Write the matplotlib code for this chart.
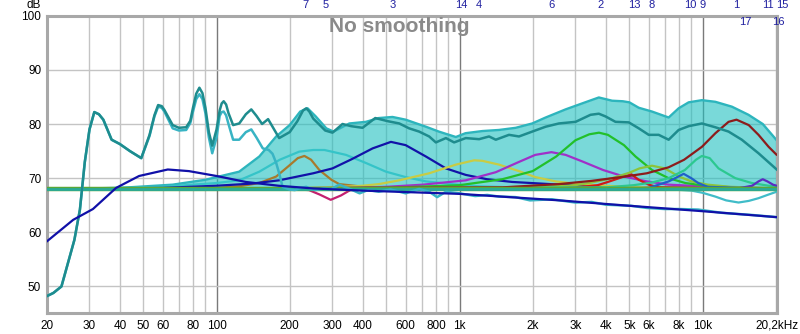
import matplotlib
matplotlib.use("Agg")
import matplotlib.pyplot as plt
from matplotlib.ticker import FixedLocator, NullLocator
import matplotlib.transforms as mtransforms

plt.rcParams['font.family'] = ['Liberation Sans', 'DejaVu Sans']

# ---------------- data ----------------
baseline_db = 68.0

meas_f = [20, 21.3, 23, 24.7, 26, 27.4, 28.7, 30, 31.4, 32.8, 34.2, 37, 40, 44, 49, 53, 55.5, 57.5, 59.5, 61, 66, 70, 75,
          78, 80, 82.5, 85, 87.5, 90, 93, 96, 100, 103, 105, 107, 109.5, 112, 117, 124, 132, 139, 146, 154, 163, 170, 181, 200, 215,
          227, 234, 241, 250, 262, 280, 300, 330, 358, 399, 450, 509, 565, 620, 682, 750, 799, 879, 950, 1061,
          1204, 1323, 1410, 1598, 1757, 1992, 2262, 2565, 3004, 3461, 3744, 3989, 4384, 4972, 5466,
          6007, 6602, 7257, 7977, 8770, 9944, 11290, 12800, 14510, 17000, 20200]
meas_db = [48.2, 48.8, 50, 55, 58.6, 64.2, 73, 79, 82.2, 81.8, 80.8, 77.1, 76.3, 75, 73.7, 78, 81.6, 83.5, 83.3, 82.6, 79.8, 79.3, 79.4,
           80.6, 83, 85.6, 86.7, 85.7, 83, 78.5, 76, 79, 82.5, 83.8, 84.2, 83.6, 82, 79.8, 80.1, 81.8, 82.7, 81.5, 80, 80.9, 79.5, 77.4, 78.5, 80.5,
           82.5, 82.9, 82.3, 81, 80.1, 78.8, 78.4, 80, 79.6, 79.3, 81.1, 80.5, 80.1, 79.2, 78.6, 77.7, 76.6, 77.4, 76.6, 77.4,
           77.2, 77.7, 77.1, 78, 77.7, 78.6, 79.5, 80.1, 80.4, 81.7, 81.9, 81.4, 80.4, 80.3, 79.2,
           78, 78, 77.1, 78.9, 79.6, 80.1, 79.4, 78.6, 77.1, 74.6, 71.6]

pred_f = [20, 21.3, 23, 24.7, 26, 27.4, 28.7, 30, 31.4, 32.8, 34.2, 37, 40, 44, 49, 53, 55.5, 57.5, 59.5, 61, 66, 70, 75,
          78, 80, 82.5, 85, 87.5, 90, 93, 96, 100, 103, 105, 107, 109.5, 112, 117, 124, 132, 139, 146, 155, 164, 170, 176, 181, 187,
          200, 210, 222, 234, 245, 256, 275, 297, 320, 350, 388, 420, 465, 520, 565, 600, 682, 750, 809,
          879, 1000, 1160, 1300, 1454, 1700, 1950, 2400, 3000, 3500, 4000, 5080, 5900, 7000, 8000, 9600,
          12000, 16000, 20200]
pred_db = [48.2, 48.8, 50, 55, 58.6, 64.2, 73, 79, 82.2, 81.8, 80.8, 77.1, 76.3, 75, 73.7, 77.8, 81.4, 83.2, 83.0, 82.3, 79.2, 78.8, 78.9,
           80.2, 82.3, 84.6, 85.5, 84.6, 82, 77.5, 74.6, 77.5, 81.5, 82.2, 82.3, 81.6, 80, 77.1, 77.1, 78.5, 79, 77.5, 75.5, 75.2, 74.5, 72.8, 70.9, 68.4,
           67.9, 67.8, 68.2, 68.4, 68, 67.8, 68.1, 68, 68.8, 68.1, 67.2, 67.8, 67.5, 67.9, 67.5, 67.2, 68, 67.5, 66.5,
           67.5, 67.2, 66.7, 66.9, 66.6, 66.5, 65.9, 66.1, 65.5, 65.6, 65.1, 64.9, 64.5, 64.3, 64.3, 64.2,
           63.6, 63.2, 62.8]

target_f = [20, 25.7, 31, 38.6, 48, 63, 77, 100, 132, 180, 250, 400, 1000, 2570, 5000, 10000, 20200]
target_db = [58.3, 62.3, 64.3, 68.2, 70.4, 71.6, 71.3, 70.4, 69.3, 68.6, 68.1, 67.7, 67.1, 65.9, 64.9, 63.9, 62.8]

fill_f = [20, 40, 66, 90, 124, 150, 176, 200, 221, 237, 256, 283, 303, 352, 412, 465, 530, 600, 727, 822,
          966, 1058, 1242, 1454, 1704, 1992, 2262, 2733, 3196, 3744, 4246, 4700, 5000, 5466, 6196, 7257,
          7977, 8770, 9944, 11290, 13210, 15460, 17700, 20200]
fill_db = [68.0, 68.2, 68.8, 69.7, 71.2, 74, 77.7, 79.8, 82.3, 82.9, 81.4, 79.2, 78.6, 80.1, 80.4, 81.1, 81.3, 80.8, 79.5, 78.6,
           77.6, 78.3, 78.7, 78.9, 79.3, 80.1, 81.2, 82.7, 83.8, 84.9, 84.3, 84.2, 84.0, 83.0, 82.3, 81.2,
           82.9, 84.0, 84.4, 84.1, 83.2, 81.7, 80.0, 77.0]

# individual EQ filter curves
f7_f = [20, 100, 124, 150, 176, 200, 216, 230, 245, 265, 297, 320, 387, 465, 600, 20200]
f7_db = [68, 68.2, 68.5, 69.1, 70.3, 72.4, 73.7, 74.1, 73.4, 71.5, 69.7, 68.9, 68.5, 68.3, 68.1, 68]

f5_f = [20, 40, 60, 80, 100, 124, 150, 182, 219, 250, 278, 341, 412, 498, 600, 727, 931, 1200, 2000, 20200]
f5_db = [68, 68.2, 68.4, 68.8, 69.1, 69.6, 71.2, 73.4, 74.9, 75.2, 75.2, 74.3, 72.8, 71.2, 70.2, 69.4, 68.9, 68.5, 68.2, 68]

fneg_f = [20, 200, 240, 265, 295, 325, 355, 420, 20200]
fneg_db = [68, 68, 67.8, 67.0, 66.0, 66.8, 67.8, 68, 68]

f3_f = [20, 60, 100, 140, 181, 250, 300, 360, 439, 522, 600, 727, 879, 1061, 1300, 1648, 2590, 4000, 20200]
f3_db = [68, 68.2, 68.6, 69, 69.6, 70.9, 71.8, 73.5, 75.5, 76.7, 76.1, 74, 71.8, 70.6, 69.8, 69.3, 68.8, 68.4, 68]

f4_f = [20, 200, 300, 399, 465, 565, 750, 966, 1150, 1242, 1454, 1757, 2050, 2487, 3118, 3900, 6000, 20200]
f4_db = [68, 68.1, 68.3, 68.6, 68.9, 69.6, 70.9, 72.5, 73.3, 73.2, 72.5, 71.3, 70.2, 69.4, 68.9, 68.6, 68.3, 68]

f6_f = [20, 300, 500, 707, 1061, 1410, 1757, 2050, 2390, 2733, 3196, 3900, 4750, 5900, 7257, 9944, 20200]
f6_db = [68, 68.1, 68.4, 68.8, 69.6, 71.1, 73.0, 74.3, 74.8, 74.3, 73.1, 71.5, 70.3, 69.4, 68.8, 68.5, 68.1]

f2_f = [20, 500, 1000, 1500, 2000, 2500, 3000, 3420, 3750, 4080, 4750, 5300, 6200, 7250, 8500, 10700, 15000, 20200]
f2_db = [68, 68.2, 68.7, 69.8, 71.3, 74.0, 77.0, 78.1, 78.4, 78.0, 76.1, 74.0, 71.5, 70.0, 69.1, 68.5, 68.2, 68.1]

f13_f = [20, 3000, 3700, 4080, 4750, 5100, 5466, 6007, 6600, 20200]
f13_db = [68, 68.3, 68.7, 69.3, 70.3, 70.7, 69.7, 68.8, 68.3, 68]

f8_f = [20, 2000, 3000, 3500, 4250, 5000, 5500, 6200, 7000, 8000, 9000, 10500, 13000, 20200]
f8_db = [68, 68.3, 68.7, 69.2, 70.0, 71.0, 71.8, 72.3, 71.8, 70.3, 69.4, 68.8, 68.4, 68.1]

f10_f = [20, 6000, 6602, 7257, 7800, 8364, 8990, 9600, 10500, 20200]
f10_db = [68, 68.2, 68.8, 69.4, 70.1, 70.8, 70.0, 69.1, 68.4, 68]

f9_f = [20, 4000, 5200, 6196, 7257, 8460, 9400, 9944, 10700, 11640, 13640, 15960, 18700, 20200]
f9_db = [68, 68.3, 68.7, 69.2, 70.0, 71.5, 73.4, 74.1, 73.7, 71.8, 70.0, 69.1, 68.6, 68.5]

f1_f = [20, 1500, 2560, 3500, 4800, 5900, 7250, 8400, 9950, 11300, 12800, 13800, 15500, 17000, 18700, 20200]
f1_db = [68, 68.3, 68.9, 69.5, 70.3, 70.9, 72.0, 73.4, 75.8, 78.3, 80.4, 80.8, 79.8, 78.0, 75.8, 74.3]

f11_f = [20, 14000, 16000, 17000, 17700, 18500, 19500, 20200]
f11_db = [68, 68.1, 68.6, 69.4, 69.8, 69.4, 68.8, 68.6]

f17_f = [20, 7000, 9000, 10000, 11290, 12500, 14070, 15500, 17000, 18500, 20200]
f17_db = [68, 68.0, 67.7, 67.3, 66.6, 65.9, 65.5, 65.8, 66.3, 66.9, 67.5]

filter_labels = ["7", "5", "3", "14", "4", "6", "2", "13", "8", "10", "9", "1", "11", "15"]
filter_label_f = [232, 282, 530, 1018, 1196, 2384, 3805, 5246, 6196, 8933, 10014, 13710, 18500, 21300]
filter_labels2 = ["17", "16"]
filter_label2_f = [14990, 20540]

xtick_vals = [20, 30, 40, 50, 60, 80, 100, 200, 300, 400, 600, 800, 1000, 2000, 3000, 4000, 5000, 6000, 8000, 10000, 20200]
xtick_labels = ["20", "30", "40", "50", "60", "80", "100", "200", "300", "400", "600", "800", "1k", "2k", "3k", "4k",
                "5k", "6k", "8k", "10k", "20,2kHz"]
ytick_vals = [50, 60, 70, 80, 90, 100]

# ---------------- figure ----------------
fig = plt.figure(figsize=(8.0, 3.34), dpi=100)
ax = fig.add_axes([46.7 / 800, 21 / 334, 730 / 800, 297.3 / 334])
ax.set_xscale('log')
ax.set_xlim(20, 20200)
ax.set_ylim(45.1, 100)

# grid
minor_grid = [f for dec in (10, 100, 1000, 10000) for f in [dec * k for k in range(1, 10)]
              if 20 < f < 20200 and f not in (100, 1000, 10000)]
for f in minor_grid:
    ax.axvline(f, color='#c4c4c4', lw=1.0, zorder=0)
for f in (100, 1000, 10000):
    ax.axvline(f, color='#7a7a7a', lw=1.0, zorder=0)
for y in (50, 60, 70, 80, 90):
    ax.axhline(y, color='#c4c4c4', lw=1.0, zorder=0)

# combined filters fill
ax.fill_between(fill_f, baseline_db, fill_db, color='#20c0c0', alpha=0.6, lw=0, zorder=1)
ax.plot(fill_f, fill_db, color='#2db5bd', lw=1.7, zorder=2)

lw = 1.6
filters = [
    (f5_f, f5_db, '#35c4c8'),
    (f7_f, f7_db, '#a87a2c'),
    (fneg_f, fneg_db, '#c42070'),
    (f3_f, f3_db, '#1212a8'),
    (f4_f, f4_db, '#c8cc44'),
    (f6_f, f6_db, '#a030c8'),
    (f2_f, f2_db, '#22c02a'),
    (f13_f, f13_db, '#d01818'),
    (f8_f, f8_db, '#8cc43a'),
    (f10_f, f10_db, '#2060c8'),
    (f9_f, f9_db, '#2cc890'),
    (f1_f, f1_db, '#8c1c1c'),
    (f11_f, f11_db, '#5a2cc0'),
    (f17_f, f17_db, '#40bcc8'),
]
for fx, fy, c in filters:
    ax.plot(fx, fy, color=c, lw=lw, zorder=3, solid_capstyle='round', solid_joinstyle='round')

ax.axhline(baseline_db, color='#5aa838', lw=3.2, zorder=3.5)
ax.axhline(baseline_db, color='#2aaa98', lw=2.0, zorder=3.6)

ax.plot(pred_f, pred_db, color='#38b4c4', lw=1.8, zorder=4, solid_joinstyle='round')
ax.plot(meas_f, meas_db, color='#1e8c8e', lw=1.8, zorder=4.5, solid_joinstyle='round')
ax.plot(target_f, target_db, color='#1010a8', lw=1.6, zorder=5, solid_joinstyle='round')

# axes styling
ax.xaxis.set_major_locator(FixedLocator(xtick_vals))
ax.xaxis.set_minor_locator(NullLocator())
ax.set_xticklabels(xtick_labels)
ax.set_yticks(ytick_vals)
ax.set_yticklabels([str(v) for v in ytick_vals])
ax.tick_params(axis='both', length=0, labelsize=8.5, colors='black')
ax.tick_params(axis='x', pad=5)
ax.tick_params(axis='y', pad=4)
for s in ax.spines.values():
    s.set_color('#a8a8a8')
    s.set_linewidth(2.2)

# labels
fig.text(34 / 800, 1 - 5.5 / 334, "dB", ha='center', va='center', fontsize=8.5)
fig.text(399 / 800, 1 - 26 / 334, "No smoothing", ha='center', va='center', fontsize=15,
         fontweight='bold', color='#8a8a8a')

trans = mtransforms.blended_transform_factory(ax.transData, fig.transFigure)
for lab, f in zip(filter_labels, filter_label_f):
    ax.text(f, 1 - 5.5 / 334, lab, transform=trans, ha='center', va='center', fontsize=8,
            color='#2020a0', clip_on=False)
for lab, f in zip(filter_labels2, filter_label2_f):
    ax.text(f, 1 - 22 / 334, lab, transform=trans, ha='center', va='center', fontsize=8,
            color='#2020a0', clip_on=False)

fig.savefig("out.png", dpi=100, facecolor='white')
